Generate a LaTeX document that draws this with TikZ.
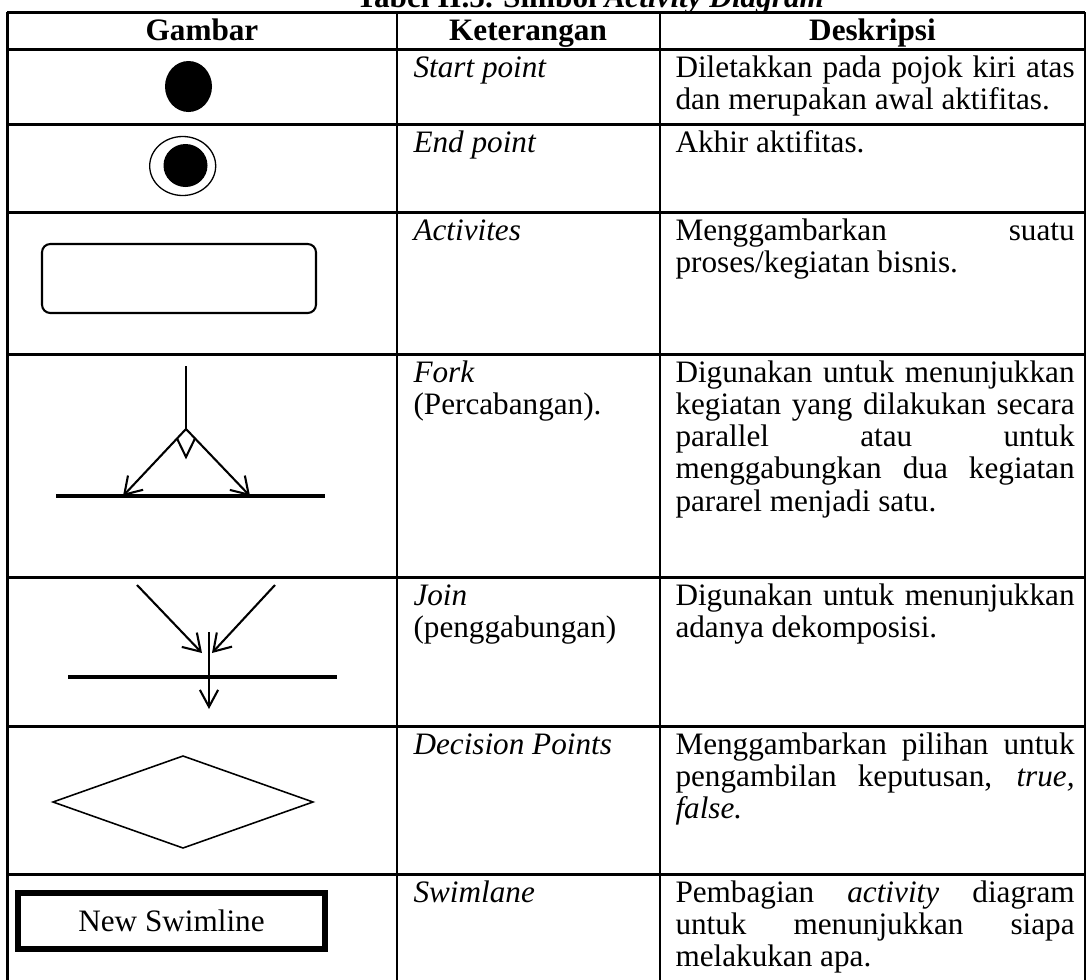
\documentclass[tikz,border=0pt]{standalone}
\usepackage{fontspec}
\setmainfont{Liberation Serif}
\usetikzlibrary{arrows.meta,shapes.geometric}
\newcommand\desc[1]{\parbox[t]{153.5pt}{\fontsize{12}{12.42}\selectfont #1}}
\newcommand\kets[1]{\parbox[t]{90pt}{\raggedright\fontsize{12}{12.42}\selectfont #1}}
\newcommand\jline[1]{\makebox[\linewidth][s]{#1}\\}
\def\P{0.3846pt}
\begin{document}
\begin{tikzpicture}[x=0.3846pt,y=-0.3846pt,
  grid/.style={line width=1.15pt},
  txt/.style={anchor=base west, inner sep=0pt},
  hdr/.style={anchor=base, inner sep=0pt, font=\fontsize{12}{12.42}\selectfont\bfseries},
  barb/.style={-{Straight Barb[length=6.3pt,width=8pt]}},
  sym/.style={line width=0.8pt},
  bar/.style={line width=1.5pt},
]
\useasboundingbox (0,0) rectangle (1087,980);
\clip (0,0) rectangle (1087,980);

% title
\node[hdr] (title) at (590,7) {Tabel II.5. Simbol \textit{Activity Diagram}};

% grid
\foreach \yy in {12,49,124,212,354,577,726,874}
  \draw[grid] (7.5,\yy) -- (1085,\yy);
\foreach \xx in {7.5,397,660,1085}
  \draw[grid] (\xx,12) -- (\xx,990);

% header
\node[hdr] (h1) at (202,40) {Gambar};
\node[hdr] (h2) at (528,40) {Keterangan};
\node[hdr] (h3) at (872.5,40) {Deskripsi};

% column 2
\node[txt] (k1) at (413,77) {\kets{\textit{Start point}}};
\node[txt] (k2) at (413,152) {\kets{\textit{End point}}};
\node[txt] (k3) at (413,240) {\kets{\textit{Activites}}};
\node[txt] (k4) at (413,382) {\kets{\textit{Fork}\\(Percabangan).}};
\node[txt] (k5) at (413,605) {\kets{\textit{Join}\\(penggabungan)}};
\node[txt] (k6) at (413,754) {\kets{\textit{Decision Points}}};
\node[txt] (k7) at (413,902) {\kets{\textit{Swimlane}}};

% column 3
\node[txt] (d1) at (675,77) {\desc{\jline{Diletakkan pada pojok kiri atas}dan merupakan awal aktifitas.}};
\node[txt] (d2) at (675,152) {\desc{Akhir aktifitas.}};
\node[txt] (d3) at (675,240) {\desc{\jline{Menggambarkan suatu}proses/kegiatan bisnis.}};
\node[txt] (d4) at (675,382) {\desc{\jline{Digunakan untuk menunjukkan}\jline{kegiatan yang dilakukan secara}\jline{parallel atau untuk}\jline{menggabungkan dua kegiatan}pararel menjadi satu.}};
\node[txt] (d5) at (675,605) {\desc{\jline{Digunakan untuk menunjukkan}adanya dekomposisi.}};
\node[txt] (d6) at (675,754) {\desc{\jline{Menggambarkan pilihan untuk}\jline{pengambilan keputusan, \textit{true,}}\textit{false.}}};
\node[txt] (d7) at (675,902) {\desc{\jline{Pembagian \textit{activity} diagram}\jline{untuk menunjukkan siapa}melakukan apa.}};

% start point
\node[ellipse, fill=black, inner sep=0pt, minimum width=47*\P, minimum height=51*\P] (start) at (188.5,86.5) {};
% end point
\node[ellipse, draw, line width=0.5pt, inner sep=0pt, minimum width=66*\P, minimum height=59*\P] (endo) at (182.7,166) {};
\node[ellipse, fill=black, inner sep=0pt, minimum width=44*\P, minimum height=43*\P] (endi) at (185.5,165.5) {};
% activity
\node[draw, sym, rounded corners=3.2pt, inner sep=0pt, minimum width=274*\P, minimum height=69*\P] (act) at (179,278.5) {};

% fork
\coordinate (ftop) at (186,366);
\coordinate (apex) at (186,429);
\coordinate (fl) at (123,496);
\coordinate (fr) at (250,496);
\coordinate (fbl) at (56,496);
\coordinate (fbr) at (325,496);
\draw[sym] (ftop) -- (apex);
\draw[sym] (177,438.5) -- (186,457) -- (195,438.5);
\draw[sym,barb] (apex) -- (fl);
\draw[sym,barb] (apex) -- (fr);
\draw[bar] (fbl) -- (fbr);

% join
\coordinate (jl) at (137,585);
\coordinate (jlt) at (202,653);
\coordinate (jr) at (275,585);
\coordinate (jrt) at (212,653);
\coordinate (jv) at (209,632);
\coordinate (jvt) at (209,709);
\coordinate (jbl) at (68,677);
\coordinate (jbr) at (337,677);
\draw[sym,barb] (jl) -- (jlt);
\draw[sym,barb] (jr) -- (jrt);
\draw[bar] (jbl) -- (jbr);
\draw[sym,-{Straight Barb[length=6.5pt,width=7pt]}] (jv) -- (jvt);

% decision
\coordinate (dl) at (53,802);
\coordinate (dt) at (183,756);
\coordinate (dr) at (313,802);
\coordinate (db) at (183,848);
\draw[line width=0.6pt] (dl) -- (dt) -- (dr) -- (db) -- cycle;

% swimlane
\node[draw, line width=2.3pt, inner sep=0pt, minimum width=307*\P, minimum height=56*\P, font=\fontsize{12}{12.42}\selectfont] (swim) at (171.5,921) {New Swimline};
\end{tikzpicture}
\end{document}
